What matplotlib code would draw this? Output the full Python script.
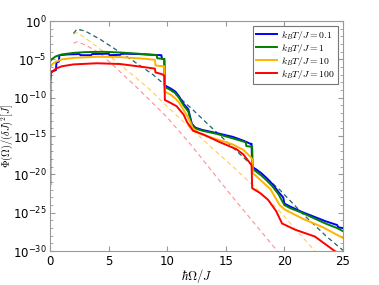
import numpy as np
import matplotlib
matplotlib.use("Agg")
import matplotlib.pyplot as plt
from matplotlib.ticker import FixedLocator, NullFormatter, LogFormatterSciNotation

plt.rcParams['mathtext.fontset'] = 'cm'
plt.rcParams['font.size'] = 8

# solid curves: (hbar Omega / J, log10 Phi)
blue_x = [0.03, 0.08, 0.5, 0.55, 0.75, 0.8, 1.5, 2.5, 2.6, 3.5, 3.6, 5.0, 5.1, 6.0, 6.1, 7.5, 9.5,
          9.55, 9.75, 9.8, 10.3, 10.7, 11.0, 11.4, 11.8, 12.1, 12.4, 13.0, 14.2, 15.6, 16.5, 17.1,
          17.2, 17.25, 18.0, 18.5, 19.0, 19.5, 19.9, 20.0, 20.5, 21.5, 22.5, 23.5, 24.5, 24.6, 25.0]
blue_log = [-7.6, -6.6, -6.4, -5.4, -5.3, -4.45, -4.35, -4.3, -4.45, -4.45, -4.3, -4.25, -4.45,
            -4.4, -4.25, -4.3, -4.45, -4.9, -4.95, -8.4, -8.8, -9.2, -9.8, -10.8, -11.5, -13.4,
            -13.9, -14.2, -14.6, -15.1, -15.6, -16.0, -16.0, -19.0, -19.8, -20.5, -21.3, -22.3,
            -23.0, -23.8, -24.2, -24.9, -25.5, -26.1, -26.6, -26.9, -27.0]

green_x = [0.03, 0.2, 0.5, 1.0, 2.0, 3.0, 4.5, 6.0, 7.5, 9.1, 9.15, 9.75, 9.8, 10.3, 10.7, 11.0,
           11.4, 11.8, 12.1, 12.4, 13.0, 14.2, 15.6, 16.7, 16.75, 17.25, 17.3, 18.0, 18.5, 19.0,
           19.5, 20.0, 20.5, 21.5, 22.5, 23.5, 24.5, 25.0]
green_log = [-5.2, -4.9, -4.6, -4.35, -4.15, -4.05, -4.0, -4.1, -4.25, -4.45, -4.85, -4.95, -8.6,
             -9.0, -9.4, -10.0, -11.0, -11.8, -13.6, -14.0, -14.3, -14.7, -15.3, -15.8, -16.3,
             -16.4, -19.3, -20.1, -20.8, -21.6, -22.6, -24.0, -24.4, -25.0, -25.7, -26.4, -27.0,
             -27.4]

yellow_x = [0.03, 0.2, 0.5, 1.0, 2.0, 4.0, 6.0, 8.0, 8.95, 9.0, 9.75, 9.8, 10.3, 10.7, 11.0, 11.4,
            11.8, 12.2, 12.8, 14.2, 15.6, 16.5, 17.1, 17.25, 17.3, 18.0, 18.8, 19.6, 20.05, 21.6,
            23.3, 25.0]
yellow_log = [-6.0, -5.6, -5.3, -5.0, -4.8, -4.65, -4.7, -4.9, -5.05, -5.8, -5.9, -9.2, -9.6,
              -10.1, -10.6, -11.6, -12.6, -14.0, -14.7, -15.4, -16.1, -16.8, -17.7, -18.0, -19.8,
              -20.8, -21.9, -24.0, -24.6, -25.8, -26.9, -28.3]

red_x = [0.03, 0.04, 0.5, 1.0, 2.0, 4.0, 6.0, 8.0, 8.95, 9.0, 9.5, 9.75, 9.8, 10.2, 10.8, 11.4,
         11.7, 12.2, 13.1, 14.5, 15.9, 16.5, 17.2, 17.25, 17.9, 18.6, 19.3, 19.8, 20.9, 22.6,
         24.3, 25.0]
red_log = [-21.3, -6.8, -6.2, -5.9, -5.65, -5.5, -5.6, -6.0, -6.2, -6.7, -6.9, -7.1, -10.3, -10.6,
           -11.1, -12.2, -13.2, -14.3, -14.8, -15.8, -16.7, -17.4, -18.8, -21.8, -22.4, -23.3,
           -24.8, -26.4, -27.2, -28.1, -30.0, -30.5]

# dashed approximations
lowT_dash_x = [2.0, 2.3, 3.0, 4.3, 7.1, 8.8, 10.0, 12.0, 13.65, 17.5, 19.6, 21.6, 23.6, 25.0]
lowT_dash_log = [-1.6, -1.05, -1.3, -2.4, -5.2, -7.0, -8.6, -11.3, -13.7, -19.2, -22.0, -25.2,
                 -28.1, -29.9]
yellow_dash_x = [2.0, 2.3, 3.0, 5.7, 8.5, 10.3, 13.65, 15.9, 19.3, 22.6]
yellow_dash_log = [-1.7, -1.5, -2.2, -5.3, -8.9, -11.6, -16.3, -19.4, -24.3, -30.0]
red_dash_x = [2.0, 2.3, 3.0, 4.27, 7.1, 9.96, 11.95, 15.5, 19.4]
red_dash_log = [-2.9, -2.7, -3.1, -4.2, -8.2, -12.5, -16.0, -22.8, -30.0]

labels = [r'$k_BT/J = 0.1$', r'$k_BT/J = 1$', r'$k_BT/J = 10$', r'$k_BT/J = 100$']
c_blue, c_green, c_yellow, c_red = '#0000ff', '#008000', '#ffb300', '#ff0000'

fig = plt.figure(figsize=(3.79, 2.85), dpi=100)
ax = fig.add_axes([0.132, 0.119, 0.773, 0.807])

dash = dict(lw=0.8, ls=(0, (4, 3)), alpha=0.65)
ax.plot(lowT_dash_x, np.power(10.0, lowT_dash_log), color=c_blue, **dash)
ax.plot(lowT_dash_x, np.power(10.0, lowT_dash_log), color=c_green, **dash)
ax.plot(yellow_dash_x, np.power(10.0, yellow_dash_log), color=c_yellow, **dash)
ax.plot(red_dash_x, np.power(10.0, red_dash_log), color='#ff5555', **dash)

ax.plot(blue_x, np.power(10.0, blue_log), color=c_blue, lw=1.4, label=labels[0])
ax.plot(green_x, np.power(10.0, green_log), color=c_green, lw=1.4, label=labels[1])
ax.plot(yellow_x, np.power(10.0, yellow_log), color=c_yellow, lw=1.4, label=labels[2])
ax.plot(red_x, np.power(10.0, red_log), color=c_red, lw=1.4, label=labels[3])

ax.set_yscale('log')
ax.set_xlim(0, 25)
ax.set_ylim(1e-30, 1e0)
ax.yaxis.set_major_locator(FixedLocator(10.0 ** np.arange(-30, 1, 5)))
ax.yaxis.set_minor_locator(FixedLocator(10.0 ** np.arange(-30, 1, 1)))
ax.yaxis.set_major_formatter(LogFormatterSciNotation())
ax.yaxis.set_minor_formatter(NullFormatter())
ax.set_xticks([0, 5, 10, 15, 20, 25])

for s in ax.spines.values():
    s.set_color('#999999')
ax.tick_params(which='both', direction='in', top=True, right=True, color='#999999',
               labelsize=8.5, pad=2.5)
ax.tick_params(which='major', length=3.5)
ax.tick_params(which='minor', length=2)

ax.set_xlabel(r'$\hbar\Omega/J$', fontsize=9)
ax.set_ylabel(r'$\Phi(\Omega)/(\delta J)^2[J]$', fontsize=7.5)
ax.xaxis.set_label_coords(0.5, -0.07, transform=ax.transAxes)
ax.yaxis.set_label_coords(-0.12, 0.5, transform=ax.transAxes)

leg = ax.legend(loc='upper right', fontsize=7, fancybox=False, framealpha=1,
                edgecolor='#777777', handlelength=2.2, borderpad=0.3, labelspacing=0.0,
                handletextpad=0.4, borderaxespad=0.5)
leg.get_frame().set_linewidth(0.8)

fig.savefig('out.png', dpi=100)
